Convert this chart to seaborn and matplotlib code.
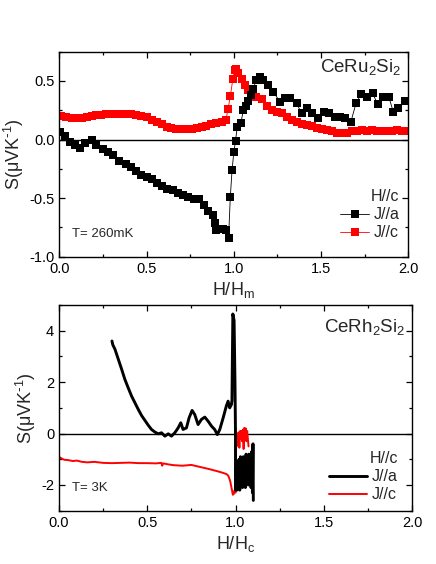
import numpy as np
import pandas as pd
import matplotlib
matplotlib.use("Agg")
import matplotlib.pyplot as plt
from matplotlib.ticker import MultipleLocator
import seaborn as sns

# ---------------- data: top panel (CeRu2Si2, T = 260 mK) ----------------
ru_a_h = [0.004, 0.033, 0.06, 0.09, 0.12, 0.15, 0.185, 0.21, 0.25, 0.28, 0.31, 0.34,
          0.38, 0.41, 0.44, 0.47, 0.50, 0.53, 0.56, 0.59, 0.62, 0.65, 0.68, 0.71,
          0.74, 0.77, 0.80, 0.83, 0.85, 0.88, 0.89, 0.90, 0.92, 0.94, 0.955, 0.97,
          0.98, 0.99, 1.00, 1.01, 1.02, 1.04, 1.055, 1.07, 1.08, 1.10, 1.11, 1.13,
          1.150, 1.169, 1.198, 1.226, 1.265, 1.293, 1.322, 1.360, 1.389, 1.421, 1.450,
          1.484, 1.517, 1.547, 1.580, 1.609, 1.637, 1.670, 1.700, 1.729, 1.762, 1.796,
          1.825, 1.857, 1.888, 1.914, 1.943, 1.981]
ru_a_s = [0.065, 0.03, -0.02, -0.05, -0.07, -0.03, 0.0, -0.05, -0.08, -0.11, -0.13, -0.18,
          -0.21, -0.23, -0.27, -0.30, -0.32, -0.34, -0.37, -0.40, -0.42, -0.43, -0.46, -0.47,
          -0.49, -0.51, -0.51, -0.56, -0.61, -0.64, -0.71, -0.77, -0.76, -0.76, -0.77, -0.84,
          -0.49, -0.26, -0.11, -0.01, 0.11, 0.14, 0.25, 0.29, 0.33, 0.38, 0.43, 0.51,
          0.537, 0.508, 0.465, 0.408, 0.322, 0.351, 0.351, 0.308, 0.223, 0.266, 0.223,
          0.185, 0.237, 0.223, 0.194, 0.194, 0.180, 0.146, 0.308, 0.386, 0.365, 0.394,
          0.300, 0.365, 0.365, 0.237, 0.266, 0.328]

ru_c_h = [0.01, 0.04, 0.07, 0.10, 0.13, 0.16, 0.185, 0.21, 0.24, 0.27, 0.30, 0.33, 0.36,
          0.39, 0.41, 0.44, 0.47, 0.50, 0.53, 0.56, 0.59, 0.62, 0.64, 0.67, 0.70, 0.73,
          0.76, 0.79, 0.82, 0.84, 0.87, 0.90, 0.93, 0.955, 0.967, 0.98, 0.995, 1.005,
          1.015, 1.026, 1.045, 1.064, 1.083, 1.10, 1.13, 1.16, 1.19, 1.217, 1.246, 1.274,
          1.303, 1.332, 1.36, 1.389, 1.418, 1.446, 1.475, 1.504, 1.532, 1.561, 1.59,
          1.618, 1.647, 1.676, 1.704, 1.733, 1.762, 1.79, 1.82, 1.848, 1.877, 1.905,
          1.934, 1.962, 1.99]
ru_c_s = [0.20, 0.19, 0.18, 0.18, 0.18, 0.19, 0.20, 0.21, 0.21, 0.22, 0.22, 0.22, 0.22,
          0.22, 0.22, 0.21, 0.20, 0.19, 0.17, 0.15, 0.13, 0.11, 0.10, 0.09, 0.09, 0.09,
          0.09, 0.10, 0.11, 0.12, 0.13, 0.14, 0.15, 0.17, 0.26, 0.37, 0.52, 0.59,
          0.60, 0.565, 0.52, 0.465, 0.42, 0.39, 0.365, 0.35, 0.29, 0.25, 0.237, 0.223,
          0.194, 0.165, 0.151, 0.137, 0.122, 0.114, 0.10, 0.094, 0.08, 0.071, 0.06,
          0.057, 0.06, 0.07, 0.074, 0.08, 0.077, 0.08, 0.077, 0.074, 0.074, 0.077,
          0.08, 0.077, 0.077]

# ---------------- data: bottom panel (CeRh2Si2, T = 3 K) ----------------
rh_a_h = [0.300, 0.305, 0.317, 0.336, 0.355, 0.373, 0.392, 0.411, 0.430, 0.449, 0.468,
          0.487, 0.505, 0.524, 0.543, 0.562, 0.581, 0.600, 0.619, 0.637, 0.656, 0.675,
          0.690, 0.703, 0.722, 0.737, 0.754, 0.769, 0.788, 0.807, 0.826, 0.845, 0.864,
          0.882, 0.897, 0.911, 0.930, 0.948, 0.958, 0.967, 0.977, 0.980, 0.985, 0.992,
          0.997, 1.000,
          1.000, 1.004, 1.008, 1.012, 1.016, 1.020, 1.024, 1.028, 1.032, 1.036, 1.040,
          1.044, 1.048, 1.052, 1.056, 1.060, 1.064, 1.068, 1.072, 1.076, 1.080, 1.084,
          1.088, 1.092, 1.096, 1.099, 1.101]
rh_a_s = [3.6, 3.45, 3.28, 2.89, 2.50, 2.11, 1.78, 1.46, 1.20, 0.94, 0.70,
          0.51, 0.33, 0.16, 0.06, -0.01, 0.03, -0.10, -0.01, -0.10, 0.03, 0.22,
          0.42, 0.16, 0.22, 0.61, 0.90, 0.74, 0.35, 0.55, 0.64, 0.48, 0.29,
          0.16, -0.04, 0.16, 0.61, 1.07, 1.26, 1.00, 1.13, 1.30, 4.65, 4.40,
          2.00, 0.00,
          -2.2, -1.3, -2.2, -1.1, -2.1, -1.0, -2.2, -0.9, -2.0, -1.0, -2.1,
          -0.9, -2.0, -1.0, -2.1, -0.8, -1.9, -1.0, -2.0, -0.8, -1.9, -0.9,
          -2.1, -0.7, -2.3, -0.4, -2.6]

rh_c_h = [0.0, 0.01, 0.03, 0.05, 0.08, 0.10, 0.13, 0.16, 0.20, 0.25, 0.30, 0.35, 0.40,
          0.45, 0.50, 0.55, 0.58, 0.585, 0.59, 0.62, 0.65, 0.70, 0.75, 0.80, 0.85, 0.90,
          0.93, 0.95, 0.96, 0.97, 0.98, 0.985, 0.99, 0.995,
          1.000, 1.003, 1.006, 1.010, 1.014, 1.018, 1.022, 1.026, 1.030, 1.034, 1.038,
          1.042, 1.046, 1.050, 1.054, 1.058, 1.062, 1.066, 1.070, 1.074]
rh_c_s = [-0.90, -0.95, -1.02, -1.03, -1.07, -1.05, -1.10, -1.12, -1.10, -1.14, -1.15,
          -1.14, -1.13, -1.15, -1.15, -1.16, -1.14, -1.25, -1.16, -1.20, -1.23, -1.25,
          -1.22, -1.30, -1.38, -1.47, -1.53, -1.58, -1.65, -1.85, -2.20, -2.38, -2.35,
          -2.20,
          -2.30, -0.10, -0.50, 0.00, -0.30, 0.05, -0.55, 0.10, -0.20, 0.10, -0.30,
          0.15, -0.60, 0.22, 0.00, 0.20, -0.30, 0.10, -0.20, -0.50]

legend_title = "H//c"
label_a = "J//a"
label_c = "J//c"
ylabel_text = r"S(μVK$^{\text{-}1}$)"

# ---------------- style ----------------
sns.set_theme(style="ticks")
plt.rcParams["font.family"] = ["Liberation Sans", "DejaVu Sans"]
plt.rcParams["mathtext.default"] = "regular"
plt.rcParams.update({
    "axes.unicode_minus": False,
    "xtick.direction": "in", "ytick.direction": "in",
    "xtick.top": True, "ytick.right": True,
    "xtick.major.size": 4, "ytick.major.size": 4,
    "xtick.minor.size": 2.5, "ytick.minor.size": 2.5,
    "xtick.major.width": 0.9, "ytick.major.width": 0.9,
    "xtick.minor.width": 0.9, "ytick.minor.width": 0.9,
    "axes.linewidth": 1.0,
    "axes.edgecolor": "black",
    "xtick.color": "black", "ytick.color": "black",
    "xtick.labelsize": 10.5, "ytick.labelsize": 10.5,
})

RED = "#ff0000"
fig = plt.figure(figsize=(4.36, 5.64), dpi=100)
ax1 = fig.add_axes([59.3 / 436, 1 - 256.7 / 564, 349 / 436, 205 / 564])
ax2 = fig.add_axes([59.0 / 436, 1 - 510.7 / 564, 353 / 436, 205.7 / 564])

# ---- top panel ----
df_ra = pd.DataFrame({"H": ru_a_h, "S": ru_a_s})
df_rc = pd.DataFrame({"H": ru_c_h, "S": ru_c_s})
ax1.axhline(0, color="black", lw=1.0, zorder=1)
sns.lineplot(data=df_ra, x="H", y="S", ax=ax1, color="black", lw=0.6,
             marker="s", markersize=5.2, markeredgewidth=0, mfc="black",
             sort=False, estimator=None, label=label_a, zorder=3)
sns.lineplot(data=df_rc, x="H", y="S", ax=ax1, color=RED, lw=0.6,
             marker="s", markersize=5.2, markeredgewidth=0, mfc=RED,
             sort=False, estimator=None, label=label_c, zorder=2)
ax1.set_xlim(0, 2)
ax1.set_ylim(-1.0, 0.75)
ax1.xaxis.set_major_locator(MultipleLocator(0.5))
ax1.xaxis.set_minor_locator(MultipleLocator(0.25))
ax1.yaxis.set_major_locator(MultipleLocator(0.5))
ax1.yaxis.set_minor_locator(MultipleLocator(0.25))
ax1.xaxis.set_major_formatter(matplotlib.ticker.FormatStrFormatter("%.1f"))
ax1.yaxis.set_major_formatter(matplotlib.ticker.FormatStrFormatter("%.1f"))
ax1.set_xlabel("H/H$_m$", fontsize=13, labelpad=3)
ax1.set_ylabel(ylabel_text, fontsize=13, labelpad=2)
ax1.text(0.981, 0.927, "CeRu$_2$Si$_2$", transform=ax1.transAxes,
         ha="right", va="center", fontsize=13.5)
ax1.text(0.036, 0.109, "T= 260mK", transform=ax1.transAxes,
         ha="left", va="center", fontsize=9.5)
leg1 = ax1.legend(title=legend_title, loc="lower right", bbox_to_anchor=(0.975, 0.08),
                  frameon=False, fontsize=11.5, title_fontsize=11.5,
                  handlelength=1.8, handletextpad=0.3, labelspacing=0.2,
                  borderaxespad=0, borderpad=0, alignment="right")

# ---- bottom panel ----
df_ha = pd.DataFrame({"H": rh_a_h, "S": rh_a_s})
df_hc = pd.DataFrame({"H": rh_c_h, "S": rh_c_s})
ax2.axhline(0, color="black", lw=1.0, zorder=1)
sns.lineplot(data=df_hc, x="H", y="S", ax=ax2, color=RED, lw=1.4,
             sort=False, estimator=None, label=label_c, zorder=2)
sns.lineplot(data=df_ha, x="H", y="S", ax=ax2, color="black", lw=2.1,
             sort=False, estimator=None, label=label_a, zorder=3)
ax2.set_xlim(0, 2)
ax2.set_ylim(-3, 5)
ax2.xaxis.set_major_locator(MultipleLocator(0.5))
ax2.xaxis.set_minor_locator(MultipleLocator(0.25))
ax2.yaxis.set_major_locator(MultipleLocator(2))
ax2.yaxis.set_minor_locator(MultipleLocator(1))
ax2.xaxis.set_major_formatter(matplotlib.ticker.FormatStrFormatter("%.1f"))
ax2.set_xlabel("H/H$_c$", fontsize=13, labelpad=3)
ax2.set_ylabel(ylabel_text, fontsize=13, labelpad=2)
ax2.text(0.98, 0.894, "CeRh$_2$Si$_2$", transform=ax2.transAxes,
         ha="right", va="center", fontsize=13.5)
ax2.text(0.036, 0.112, "T= 3K", transform=ax2.transAxes,
         ha="left", va="center", fontsize=9.5)
handles, labels = ax2.get_legend_handles_labels()
order = [labels.index(label_a), labels.index(label_c)]
leg2 = ax2.legend([handles[i] for i in order], [labels[i] for i in order],
                  title=legend_title, loc="lower right", bbox_to_anchor=(0.96, 0.04),
                  frameon=False, fontsize=11.5, title_fontsize=11.5,
                  handlelength=2.4, handletextpad=0.3, labelspacing=0.2,
                  borderaxespad=0, borderpad=0, alignment="right")

fig.savefig("out.png", dpi=100)
